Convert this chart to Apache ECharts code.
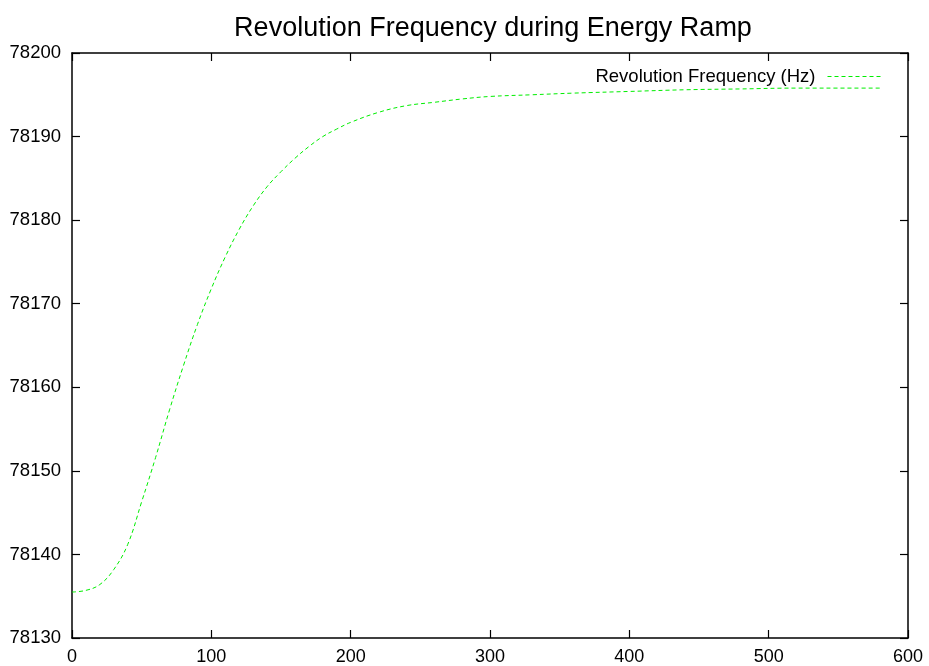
<!DOCTYPE html>
<html>
<head>
<meta charset="utf-8">
<title>Revolution Frequency during Energy Ramp</title>
<script src="https://cdn.jsdelivr.net/npm/echarts@6/dist/echarts.min.js"></script>
<style>
  html, body { margin: 0; padding: 0; background: #fff; }
  #chart { width: 929px; height: 666px; }
</style>
</head>
<body>
<div id="chart"></div>
<script>
// time (x) and revolution frequency in Hz (y)
var times = [0, 10, 20, 30, 40, 50, 60, 70, 80, 90, 100, 110, 120, 130, 140, 150,
  160, 170, 180, 190, 200, 220, 240, 260, 280, 300, 330, 360, 400, 440, 480, 520, 560, 580]
var freqs = [78135.5, 78135.7, 78136.4, 78138.2, 78141.2, 78146.3, 78151.6, 78157.3,
  78162.6, 78167.5, 78171.8, 78175.6, 78178.9, 78181.7, 78184.0, 78185.8, 78187.4,
  78188.8, 78190.0, 78190.9, 78191.7, 78192.9, 78193.7, 78194.1, 78194.5, 78194.8,
  78195.0, 78195.2, 78195.4, 78195.6, 78195.7, 78195.8, 78195.8, 78195.8]
var xTicks = [0, 100, 200, 300, 400, 500, 600]
var yTicks = [78130, 78140, 78150, 78160, 78170, 78180, 78190, 78200]

var font = 'Liberation Sans, Arial, Helvetica, sans-serif'
var chart = echarts.init(document.getElementById('chart'), null, { renderer: 'canvas' })

var axisLine = { show: true, onZero: false, lineStyle: { color: '#000', width: 1.5 } }
var tick = { show: true, inside: true, length: 8, lineStyle: { color: '#000', width: 1.2 } }
var plain = function(v) { return String(v) }

chart.setOption({
  animation: false,
  backgroundColor: '#fff',
  title: {
    text: 'Revolution Frequency during Energy Ramp',
    left: 488,
    textAlign: 'center',
    top: 10,
    textStyle: { fontFamily: font, fontSize: 27, fontWeight: 'normal', color: '#000' }
  },
  legend: {
    right: 42,
    top: 62,
    align: 'right',
    itemWidth: 54,
    itemHeight: 12,
    itemStyle: { opacity: 0 },
    lineStyle: { width: 1 },
    textStyle: { fontFamily: font, fontSize: 18.5, color: '#000', padding: [0, 7, 0, 0] },
    data: ['Revolution Frequency (Hz)']
  },
  grid: { left: 72, right: 21, top: 53, bottom: 28 },
  xAxis: [
    {
      type: 'value', min: xTicks[0], max: xTicks[xTicks.length - 1], interval: 100,
      axisLine: axisLine, axisTick: tick, splitLine: { show: false },
      axisLabel: { fontFamily: font, fontSize: 18, color: '#000', margin: 10, formatter: plain }
    },
    {
      type: 'value', position: 'top', min: 0, max: 600, interval: 100,
      axisLine: axisLine, axisTick: tick, splitLine: { show: false },
      axisLabel: { show: false }
    }
  ],
  yAxis: [
    {
      type: 'value', min: yTicks[0], max: yTicks[yTicks.length - 1], interval: 10,
      axisLine: axisLine, axisTick: tick, splitLine: { show: false },
      axisLabel: { fontFamily: font, fontSize: 18.5, color: '#000', margin: 11, formatter: plain }
    },
    {
      type: 'value', position: 'right', min: 78130, max: 78200, interval: 10,
      axisLine: axisLine, axisTick: tick, splitLine: { show: false },
      axisLabel: { show: false }
    }
  ],
  series: [
    {
      name: 'Revolution Frequency (Hz)',
      type: 'line',
      smooth: 0.4,
      showSymbol: false,
      symbol: 'none',
      xAxisIndex: 0,
      yAxisIndex: 0,
      color: '#00ee00',
      lineStyle: { color: '#00ee00', width: 1, type: [4, 3] },
      data: times.map(function(t, i) { return [t, freqs[i]] })
    }
  ]
})
</script>
</body>
</html>
